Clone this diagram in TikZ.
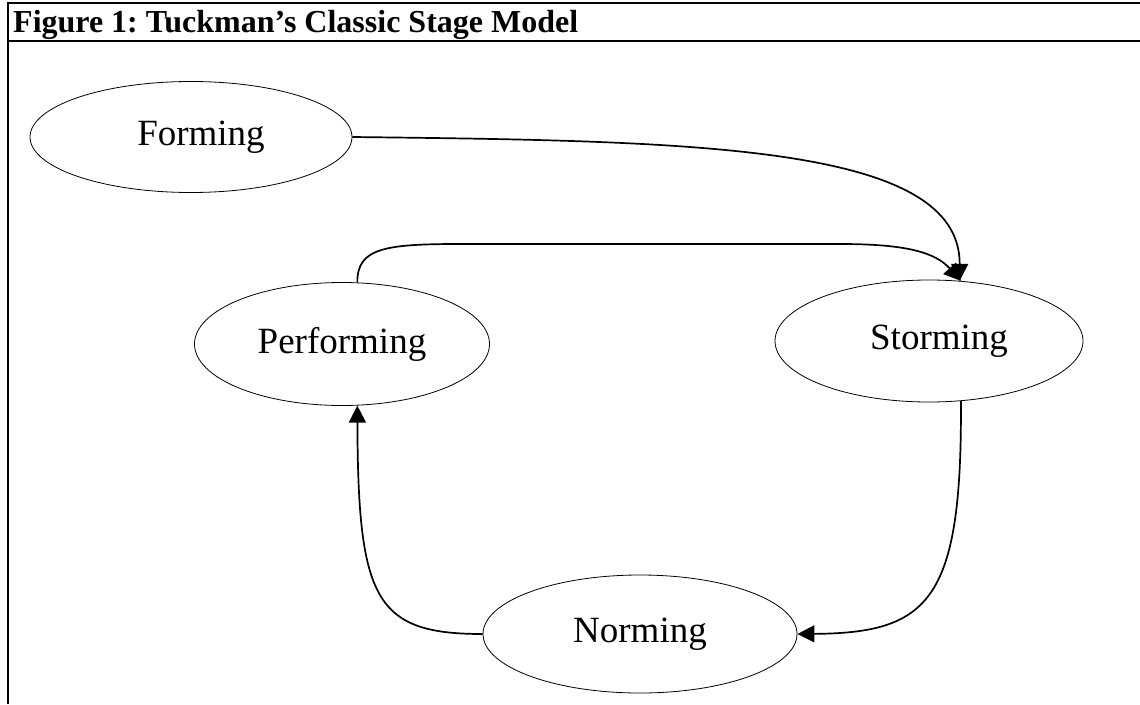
\documentclass[tikz,border=0pt]{standalone}
\usepackage{fontspec}
\setmainfont{Liberation Serif}
\usetikzlibrary{shapes.geometric,arrows.meta}
\tikzset{
  stage/.style={ellipse, draw, line width=0.8pt, inner sep=0pt,
    font=\fontsize{37}{44}\selectfont},
  flow/.style={line width=1.7pt, -{Triangle[length=17pt,width=17pt]}},
  frame/.style={line width=2pt},
}
\frenchspacing
\begin{document}
\begin{tikzpicture}[x=1pt,y=-1pt]
  \useasboundingbox (0,0) rectangle (1140,704);
  % frame and caption
  \draw[frame] (7.5,2.5) -- (1140,2.5);
  \draw[frame] (7.5,41) -- (1140,41);
  \draw[frame] (7.5,1.5) -- (7.5,704);
  \node[anchor=base west, inner sep=0pt, font=\fontsize{32}{38}\selectfont\bfseries]
    (title) at (13,32) {Figure 1: Tuckman’s Classic Stage Model};
  % stages (labels sit slightly right of the ellipse centres)
  \node[stage, minimum width=322pt, minimum height=111pt] (F) at (191,137) {\hspace*{20pt}Forming};
  \node[stage, minimum width=295pt, minimum height=123pt] (P) at (342,344) {Performing};
  \node[stage, minimum width=308pt, minimum height=122pt] (S) at (929,341) {\hspace*{20pt}Storming};
  \node[stage, minimum width=314pt, minimum height=118pt] (N) at (640,634) {Norming};
  % transitions
  \draw[flow] (F.east) .. controls (700,141) and (960,145) .. (S.63);
  \draw[flow] (P.76) .. controls (357,248) and (385,244) .. (460,244)
     -- (840,244) .. controls (905,244) and (935,252) .. (S.62);
  \draw[flow] (S.-62) .. controls (962,600) and (930,633) .. (N.east);
  \draw[flow] (N.west) .. controls (375,634) and (358,600) .. (P.-76);
\end{tikzpicture}
\end{document}
